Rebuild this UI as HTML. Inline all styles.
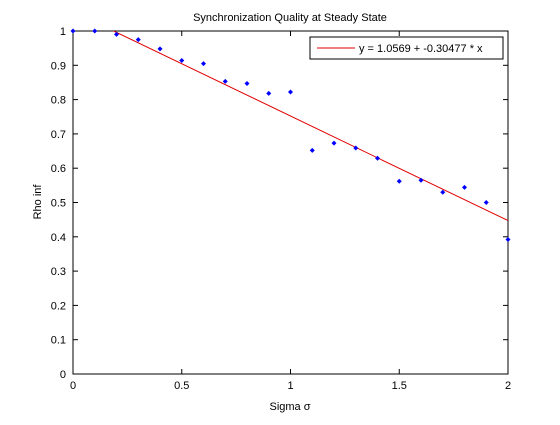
<!DOCTYPE html>
<html><head><meta charset="utf-8"><style>
body{margin:0;background:#fff;width:560px;height:420px;overflow:hidden}
svg text{font-family:"Liberation Sans",Arial,sans-serif;font-size:11px;fill:#000}
</style></head><body>
<svg id="chart" width="560" height="420" xmlns="http://www.w3.org/2000/svg">
<rect x="0" y="0" width="560" height="420" fill="#fff"/>
<defs><clipPath id="clip"><rect x="73" y="31" width="435" height="343"/></clipPath></defs>
<g id="axes"></g>
<g id="marks" clip-path="url(#clip)"></g>
<g id="points"></g>
<text x="290" y="21" text-anchor="middle">Synchronization Quality at Steady State</text>
<text x="290" y="410" text-anchor="middle">Sigma σ</text>
<text transform="translate(41,202) rotate(-90)" text-anchor="middle">Rho inf</text>
<g>
<rect x="310" y="37" width="193" height="22" fill="#fff" stroke="#000" stroke-width="1"/>
<line x1="317" y1="48" x2="355" y2="48" stroke="#e00000" stroke-width="1"/>
<text x="359" y="52">y = 1.0569 + -0.30477 * x</text>
</g>
</svg>
<script>
const xs=[0,0.1,0.2,0.3,0.4,0.5,0.6,0.7,0.8,0.9,1.0,1.1,1.2,1.3,1.4,1.5,1.6,1.7,1.8,1.9,2.0];
const ys=[1.0,1.0,0.99,0.975,0.948,0.914,0.905,0.853,0.847,0.818,0.822,0.652,0.673,0.659,0.629,0.562,0.565,0.53,0.544,0.5,0.392];
const fitCoef=[1.0569,-0.30477];
const xTicks=[0,0.5,1,1.5,2];
const xTickLabels=["0","0.5","1","1.5","2"];
const yTicks=[0,0.1,0.2,0.3,0.4,0.5,0.6,0.7,0.8,0.9,1];
const yTickLabels=["0","0.1","0.2","0.3","0.4","0.5","0.6","0.7","0.8","0.9","1"];
const L=73,R=508,T=31,B=374;
const sx=v=>L+(v-0)/2*(R-L), sy=v=>B-v*(B-T);
const NS="http://www.w3.org/2000/svg";
function mk(t,a,p){const e=document.createElementNS(NS,t);for(const k in a)e.setAttribute(k,a[k]);p.appendChild(e);return e;}
const ax=document.getElementById('axes'),mg=document.getElementById('marks'),pg=document.getElementById('points');
const box=mk('rect',{x:L,y:T,width:R-L,height:B-T,fill:'none',stroke:'#000','stroke-width':1},ax);


xTicks.forEach((v,i)=>{const x=sx(v);
mk('line',{x1:x,y1:B,x2:x,y2:B-5,stroke:'#000'},ax);mk('line',{x1:x,y1:T,x2:x,y2:T+5,stroke:'#000'},ax);
const t=mk('text',{x:x,y:B+15,'text-anchor':'middle'},ax);t.textContent=xTickLabels[i];

});
yTicks.forEach((v,i)=>{const y=sy(v);
mk('line',{x1:L,y1:y,x2:L+5,y2:y,stroke:'#000'},ax);mk('line',{x1:R,y1:y,x2:R-5,y2:y,stroke:'#000'},ax);
const t=mk('text',{x:L-7,y:y+4,'text-anchor':'end'},ax);t.textContent=yTickLabels[i];

});
const ln=mk('line',{x1:sx(0),y1:sy(fitCoef[0]),x2:sx(2),y2:sy(fitCoef[0]+fitCoef[1]*2),stroke:'#e00000','stroke-width':1},mg);


xs.forEach((v,i)=>{const x=sx(v),y=sy(ys[i]);
const c=mk('polygon',{points:`${x},${y-2.5} ${x+2.5},${y} ${x},${y+2.5} ${x-2.5},${y}`,fill:'#0000ff'},pg);

});
</script>
</body></html>
